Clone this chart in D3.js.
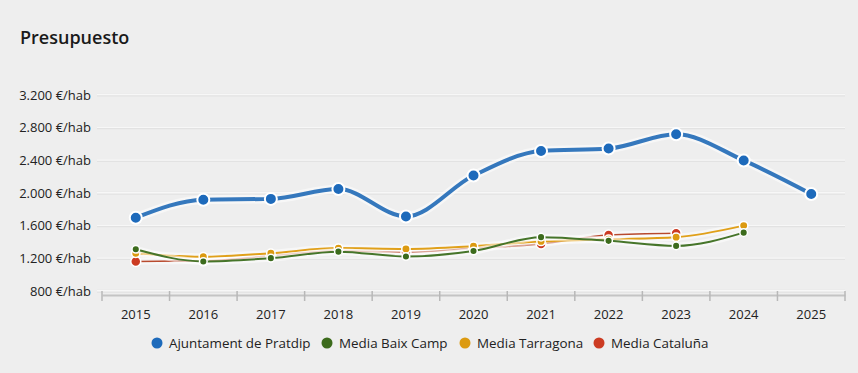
<!DOCTYPE html>
<html><head><meta charset="utf-8">
<script src="https://cdn.jsdelivr.net/npm/d3@7"></script>
<style>
html,body{margin:0;padding:0;background:#eeeeee;}
svg{display:block;font-family:"Open Sans",sans-serif;}
</style></head>
<body>
<svg id="c" width="858" height="373"></svg>
<script>
const years = ["2015","2016","2017","2018","2019","2020","2021","2022","2023","2024","2025"];
const pratdip   = [1700,1920,1930,2050,1715,2215,2515,2545,2720,2400,1990];
const baixCamp  = [1314,1165,1205,1285,1225,1292,1462,1417,1355,1517,null];
const tarragona = [1266,1222,1265,1328,1318,1352,1410,1436,1462,1603,null];
const cataluna  = [1165,1172,1236,1296,1277,1326,1378,1489,1510,null,null];
const yTicks = [800,1200,1600,2000,2400,2800,3200];
const seriesNames = ["Ajuntament de Pratdip","Media Baix Camp","Media Tarragona","Media Cataluña"];
const seriesColors = ["#1d6abb","#3c6b1c","#dc9a10","#cc3b22"];
const lineColors = ["#3578bd","#46752a","#e0a01a","#b84a2e"];

(function(){
const svg = d3.select("#c");
const pL = 102, pR = 845, pT = 95, pB = 291.3;
const x = d3.scaleBand().domain(years).range([pL, pR]);
const y = d3.scaleLinear().domain([800, 3200]).range([pB, pT]);

svg.append("text").attr("x", 20).attr("y", 44).text("Presupuesto")
  .attr("font-size", 18).attr("font-weight", 600).attr("fill", "#1a1a1a");

// grid
const g = svg.append("g");
g.selectAll("line.grid").data(yTicks).join("line").attr("class","grid")
  .attr("x1", 97).attr("x2", pR).attr("y1", d => y(d)).attr("y2", d => y(d))
  .attr("stroke", "#e2e2e2").attr("stroke-width", 3);
g.selectAll("line.grid2").data(yTicks).join("line").attr("class","grid2")
  .attr("x1", 97).attr("x2", pR).attr("y1", d => y(d)-0.5).attr("y2", d => y(d)-0.5)
  .attr("stroke", "#f7f7f7").attr("stroke-width", 1.5);

// y labels
const fmt = d => d3.format(",")(d).replace(/,/g, ".") + " €/hab";
g.selectAll("text.yl").data(yTicks).join("text").attr("class","yl")
  .attr("x", 91).attr("y", d => y(d)).attr("dy", "0.35em")
  .attr("text-anchor", "end").attr("font-size", 13).attr("fill", "#222")
  .text(fmt);

// x axis
const xAxis = d3.axisBottom(x).tickSize(0).tickPadding(15);
const ax = svg.append("g").attr("transform", "translate(0,295)").call(xAxis);
ax.select(".domain").attr("stroke", "#c4c4c4").attr("stroke-width", 2);
ax.selectAll("text").attr("font-size", 13).attr("fill", "#222").attr("font-family", "Open Sans, sans-serif");
const bounds = years.map(d => x(d)).concat([x(years[years.length-1]) + x.bandwidth()]);
ax.selectAll("line.tk").data(bounds).join("line").attr("class","tk")
  .attr("x1", d => d).attr("x2", d => d).attr("y1", -4).attr("y2", 6)
  .attr("stroke", "#b8b8b8").attr("stroke-width", 1.5);

// series
const allSeries = [pratdip, baixCamp, tarragona, cataluna];
const widths = [4, 2, 2, 1.5];
const radii = [6, 3.8, 4.2, 5];
const line = d3.line()
  .x(d => x(d.k) + x.bandwidth()/2)
  .y(d => y(d.v))
  .curve(d3.curveMonotoneX);

for (let i = allSeries.length - 1; i >= 0; i--) {
  const data = years.map((k, j) => ({k, v: allSeries[i][j]})).filter(d => d.v != null);
  const sg = svg.append("g");
  sg.append("path").datum(data).attr("d", line).attr("fill", "none")
    .attr("stroke", "#ffffff").attr("stroke-opacity", 0.5).attr("stroke-width", widths[i] + 5);
  sg.append("path").datum(data).attr("d", line).attr("fill", "none")
    .attr("stroke", lineColors[i]).attr("stroke-width", widths[i]);
  sg.selectAll("circle").data(data).join("circle")
    .attr("cx", d => x(d.k) + x.bandwidth()/2).attr("cy", d => y(d.v))
    .attr("r", radii[i]).attr("fill", seriesColors[i])
    .attr("stroke", "#ffffff").attr("stroke-width", i === 0 ? 2 : 1.5);
}

// legend
const legX = [157, 327, 465, 599];
const lg = svg.append("g");
seriesNames.forEach((n, i) => {
  lg.append("circle").attr("cx", legX[i]).attr("cy", 343).attr("r", 5.5).attr("fill", seriesColors[i]);
  lg.append("text").attr("x", legX[i] + 12).attr("y", 343).attr("dy", "0.35em")
    .attr("font-size", 13.4).attr("fill", "#222").text(n);
});
})();
</script>
</body></html>
